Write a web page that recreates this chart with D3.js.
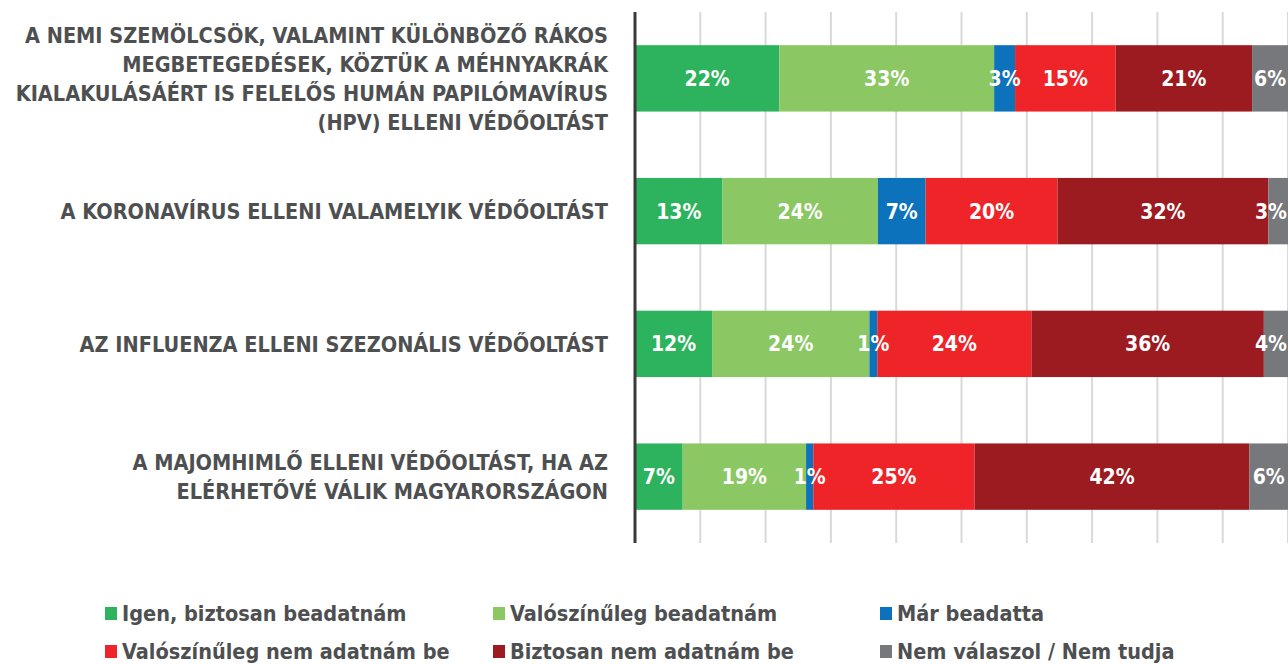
<!DOCTYPE html>
<html><head><meta charset="utf-8">
<script src="https://cdn.jsdelivr.net/npm/d3@7"></script>
<style>
body{margin:0;background:#fff;}
text{font-family:"Liberation Sans Narrow","Arial Narrow","DejaVu Sans Condensed",sans-serif;}
</style></head><body>
<svg id="c" width="1288" height="664"></svg>
<script>
const categories = [
  "A NEMI SZEMÖLCSÖK, VALAMINT KÜLÖNBÖZŐ RÁKOS|MEGBETEGEDÉSEK, KÖZTÜK A MÉHNYAKRÁK|KIALAKULÁSÁÉRT IS FELELŐS HUMÁN PAPILÓMAVÍRUS|(HPV) ELLENI VÉDŐOLTÁST",
  "A KORONAVÍRUS ELLENI VALAMELYIK VÉDŐOLTÁST",
  "AZ INFLUENZA ELLENI SZEZONÁLIS VÉDŐOLTÁST",
  "A MAJOMHIMLŐ ELLENI VÉDŐOLTÁST, HA AZ|ELÉRHETŐVÉ VÁLIK MAGYARORSZÁGON"
];
const seriesNames = ["Igen, biztosan beadatnám","Valószínűleg beadatnám","Már beadatta","Valószínűleg nem adatnám be","Biztosan nem adatnám be","Nem válaszol / Nem tudja"];
const colors = ["#2db35d","#8bc863","#0b72bb","#ee2428","#9b1b20","#76787b"];
const igen      = [22.1, 13.4, 11.8, 7.3];
const valoszinu = [32.9, 23.8, 24.1, 18.9];
const mar       = [3.2, 7.3, 1.2, 1.1];
const valNem    = [15.4, 20.2, 23.6, 24.7];
const bizNem    = [20.9, 32.3, 35.6, 42.1];
const nemValasz = [5.5, 3.0, 3.7, 5.9];
const gridTicks = [10,20,30,40,50,60,70,80,90,100];

const seriesValues = [igen, valoszinu, mar, valNem, bizNem, nemValasz];
const rows = categories.map((c,i)=>{const o={cat:c}; seriesNames.forEach((s,j)=>o[s]=seriesValues[j][i]); return o;});
const stack = d3.stack().keys(seriesNames)(rows);

const svg = d3.select("#c");
const x = d3.scaleLinear().domain([0,100]).range([635,1288]);
const y = d3.scaleBand().domain(categories).range([12,543]).paddingInner(0.5).paddingOuter(0.25);

// gridlines
svg.append("g").selectAll("line").data(gridTicks).join("line")
  .attr("x1",d=>x(d)).attr("x2",d=>x(d)).attr("y1",12).attr("y2",543)
  .attr("stroke","#d9d9d9").attr("stroke-width",2);

// bars
const g = svg.append("g");
stack.forEach((layer,j)=>{
  g.append("g").selectAll("rect").data(layer).join("rect")
    .attr("x",d=>x(d[0])).attr("width",d=>x(d[1])-x(d[0]))
    .attr("y",d=>y(d.data.cat)).attr("height",y.bandwidth())
    .attr("fill",colors[j]);
});
const fmt = d3.format(".0f");
stack.forEach((layer,j)=>{
  g.append("g").selectAll("text").data(layer).join("text")
    .attr("x",d=>(x(d[0])+x(d[1]))/2).attr("y",d=>y(d.data.cat)+y.bandwidth()/2)
    .attr("dy","0.36em").attr("text-anchor","middle")
    .attr("fill","#fff").attr("font-size",21).attr("font-weight","bold")
    .text(d=>fmt(d[1]-d[0])+"%")
    .each(function(){
      const w = this.getComputedTextLength();
      const cx = +this.getAttribute("x");
      if (cx + w/2 > 1287) this.setAttribute("x", 1287 - w/2);
    });
});

// axis line
svg.append("line").attr("x1",x(0)).attr("x2",x(0)).attr("y1",12).attr("y2",543)
  .attr("stroke","#3a3a3a").attr("stroke-width",3);

// category labels
const lab = svg.append("g");
categories.forEach(c=>{
  const lines = c.split("|");
  const cy = y(c)+y.bandwidth()/2;
  const lh = 29;
  const t = lab.append("text").attr("text-anchor","end").attr("fill","#4d4f50")
    .attr("font-size",21.5).attr("font-weight","bold");
  lines.forEach((l,k)=>{
    t.append("tspan").attr("x",608).attr("y",cy+(k-(lines.length-1)/2)*lh).attr("dy","0.36em").text(l);
  });
});

// legend
const legCols = [105,493,880], legRows = [613,651];
const leg = svg.append("g");
seriesNames.forEach((s,i)=>{
  const lx = legCols[i%3], ly = legRows[Math.floor(i/3)];
  leg.append("rect").attr("x",lx).attr("y",ly-6).attr("width",12).attr("height",13).attr("fill",colors[i]);
  leg.append("text").attr("x",lx+17).attr("y",ly).attr("dy","0.36em")
    .attr("fill","#4d4f50").attr("font-size",21.5).attr("font-weight","bold").text(s);
});
</script></body></html>
